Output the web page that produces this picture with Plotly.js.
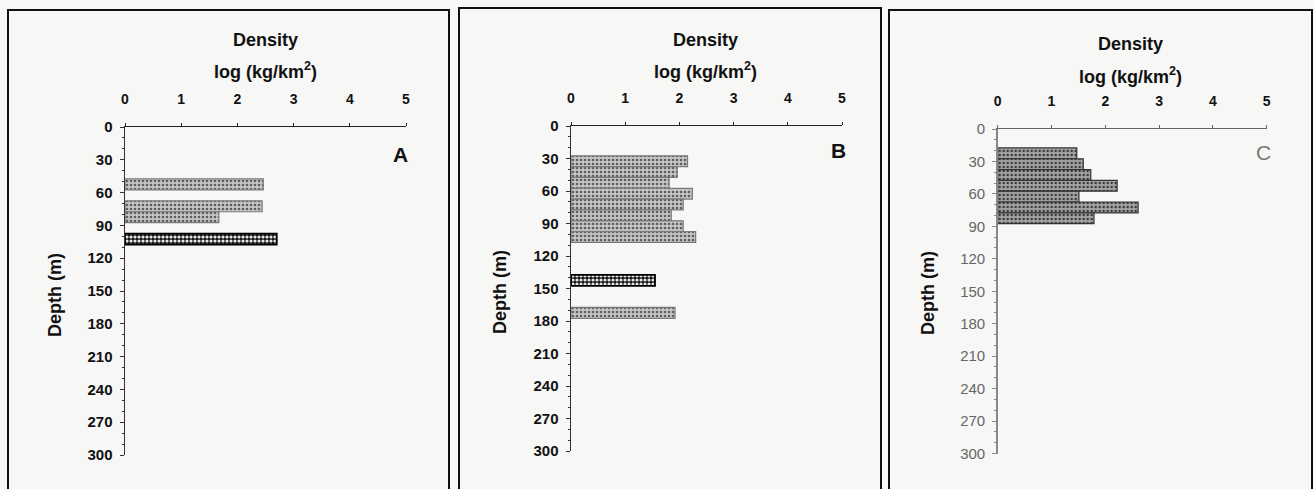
<!DOCTYPE html>
<html>
<head>
<meta charset="utf-8">
<script src="https://cdn.plot.ly/plotly-3.0.1.min.js"></script>
<style>
html,body{margin:0;padding:0;background:#f7f7f5;}
#chart{width:1314px;height:489px;}
</style>
</head>
<body>
<div id="chart"></div>
<script>
// ---- data ----
const depthTicks = [0, 30, 60, 90, 120, 150, 180, 210, 240, 270, 300];
const densityTicks = [0, 1, 2, 3, 4, 5];
const panelLabels = ["A", "B", "C"];

// Panel A
const aLightDepth = [52.5, 72.5, 82.5];
const aLightValue = [2.46, 2.44, 1.67];
const aDarkDepth = [102.5];
const aDarkValue = [2.70];

// Panel B
const bLightDepth = [32.5, 42.5, 52.5, 62.5, 72.5, 82.5, 92.5, 102.5, 172.5];
const bLightValue = [2.15, 1.96, 1.81, 2.24, 2.07, 1.85, 2.07, 2.30, 1.92];
const bDarkDepth = [142.5];
const bDarkValue = [1.55];

// Panel C
const cDepth = [22.5, 32.5, 42.5, 52.5, 62.5, 72.5, 82.5];
const cValue = [1.47, 1.59, 1.73, 2.22, 1.51, 2.61, 1.79];

// ---- helpers ----
const W = 1314, H = 489;
const px = x => x / W;
const py = y => 1 - y / H;
const FONT = "Liberation Sans, Arial, sans-serif";

function lightBar(depth, val, xa, ya) {
  return {
    type: "bar", orientation: "h", x: val, y: depth, width: 10,
    xaxis: xa, yaxis: ya, showlegend: false, hoverinfo: "skip",
    marker: {
      color: "#bdbdbd",
      line: {color: "#7a7a7a", width: 1.2},
      pattern: {shape: ".", fgcolor: "#5e5e5e", bgcolor: "#c6c6c6", size: 4, solidity: 0.35}
    }
  };
}
function darkBar(depth, val, xa, ya) {
  return {
    type: "bar", orientation: "h", x: val, y: depth, width: 10,
    xaxis: xa, yaxis: ya, showlegend: false, hoverinfo: "skip",
    marker: {
      color: "#222",
      line: {color: "#000", width: 1.8},
      pattern: {shape: ".", fgcolor: "#e8e8e8", bgcolor: "#111", size: 4, solidity: 0.5}
    }
  };
}
function greyBar(depth, val, xa, ya) {
  return {
    type: "bar", orientation: "h", x: val, y: depth, width: 10,
    xaxis: xa, yaxis: ya, showlegend: false, hoverinfo: "skip",
    marker: {
      color: "#9e9e9e",
      line: {color: "#333", width: 1.2},
      pattern: {shape: ".", fgcolor: "#3a3a3a", bgcolor: "#a4a4a4", size: 4, solidity: 0.3}
    }
  };
}

const data = [
  lightBar(aLightDepth, aLightValue, "x", "y"),
  darkBar(aDarkDepth, aDarkValue, "x", "y"),
  lightBar(bLightDepth, bLightValue, "x2", "y2"),
  darkBar(bDarkDepth, bDarkValue, "x2", "y2"),
  greyBar(cDepth, cValue, "x3", "y3")
];

function xAxis(domain, anchor, color) {
  return {
    domain: domain, anchor: anchor, side: "top", range: [0, 5],
    tickvals: densityTicks, ticktext: densityTicks.map(String),
    ticks: "outside", ticklen: 3, tickcolor: color, tickwidth: 1,
    showline: true, linecolor: color, linewidth: 1.5,
    showgrid: false, zeroline: false, fixedrange: true,
    ticklabelstandoff: 13,
    tickfont: {family: FONT, size: 14, color: "#111", weight: "bold"}
  };
}
function yAxis(domain, anchor, color, fontColor, weight) {
  return {
    domain: domain, anchor: anchor, range: [300, 0],
    tickvals: depthTicks, ticktext: depthTicks.map(String),
    ticks: "outside", ticklen: 4, tickcolor: color, tickwidth: 1,
    minor: {dtick: 10, tick0: 0, ticks: "outside", ticklen: 2, tickcolor: color},
    showline: true, linecolor: color, linewidth: 1.5,
    showgrid: false, zeroline: false, fixedrange: true,
    ticklabelstandoff: 4,
    tickfont: {family: FONT, size: 15, color: fontColor, weight: weight}
  };
}

const layout = {
  width: W, height: H,
  margin: {l: 0, r: 0, t: 0, b: 0},
  paper_bgcolor: "#f7f7f5",
  plot_bgcolor: "rgba(0,0,0,0)",
  barmode: "overlay",
  bargap: 0,
  showlegend: false,
  xaxis: xAxis([px(125), px(406)], "y", "#222"),
  yaxis: yAxis([py(455), py(127)], "x", "#333", "#111", "bold"),
  xaxis2: xAxis([px(571), px(842)], "y2", "#222"),
  yaxis2: yAxis([py(451), py(126)], "x2", "#333", "#111", "bold"),
  xaxis3: xAxis([px(997.7), px(1266.7)], "y3", "#666"),
  yaxis3: yAxis([py(453.5), py(129)], "x3", "#888", "#666", "normal"),
  shapes: [
    {type: "rect", xref: "paper", yref: "paper", x0: px(8), x1: px(449), y0: -0.05, y1: py(10), line: {color: "#111", width: 2}},
    {type: "rect", xref: "paper", yref: "paper", x0: px(459), x1: px(881), y0: -0.05, y1: py(8), line: {color: "#111", width: 2}},
    {type: "rect", xref: "paper", yref: "paper", x0: px(889), x1: px(1312), y0: -0.05, y1: py(10), line: {color: "#111", width: 2}}
  ],
  annotations: []
};

const panels = [
  {cx: 265, dY: 40, lY: 71, depthX: 55, depthY: 295, letX: 400, letY: 154, letColor: "#111", letWeight: "bold"},
  {cx: 705, dY: 40, lY: 70, depthX: 500, depthY: 292, letX: 838, letY: 150, letColor: "#111", letWeight: "bold"},
  {cx: 1130, dY: 44, lY: 75, depthX: 928, depthY: 293, letX: 1263, letY: 153, letColor: "#777", letWeight: "normal"}
];
panels.forEach((p, i) => {
  const common = {xref: "paper", yref: "paper", showarrow: false, xanchor: "center", yanchor: "middle"};
  layout.annotations.push(Object.assign({}, common, {
    x: px(p.cx), y: py(p.dY), text: "Density",
    font: {family: FONT, size: 18, color: "#111", weight: "bold"}
  }));
  layout.annotations.push(Object.assign({}, common, {
    x: px(p.cx), y: py(p.lY), text: "log (kg/km<sup>2</sup>)",
    font: {family: FONT, size: 18, color: "#111", weight: "bold"}
  }));
  layout.annotations.push(Object.assign({}, common, {
    x: px(p.depthX), y: py(p.depthY), text: "Depth (m)", textangle: -90,
    font: {family: FONT, size: 18, color: "#111", weight: "bold"}
  }));
  layout.annotations.push(Object.assign({}, common, {
    x: px(p.letX), y: py(p.letY), text: panelLabels[i],
    font: {family: FONT, size: 21, color: p.letColor, weight: p.letWeight}
  }));
});

Plotly.newPlot("chart", data, layout, {displayModeBar: false, staticPlot: true});
</script>
</body>
</html>
